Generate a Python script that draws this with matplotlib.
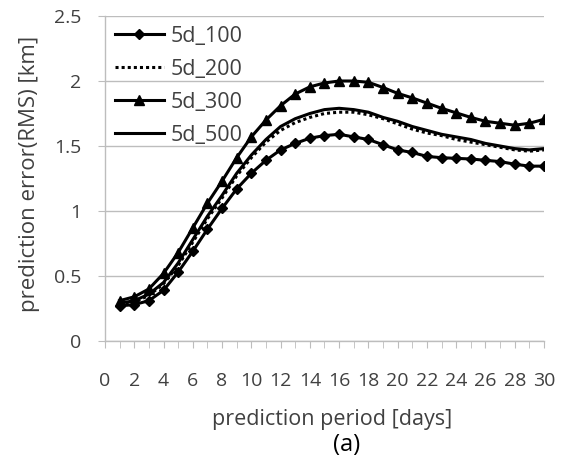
import matplotlib
matplotlib.use("Agg")
import matplotlib.pyplot as plt

days = list(range(1, 31))

rms_5d_100 = [0.27, 0.28, 0.31, 0.39, 0.53, 0.69, 0.86, 1.02, 1.17, 1.29,
              1.39, 1.47, 1.52, 1.56, 1.58, 1.59, 1.57, 1.55, 1.51, 1.47,
              1.45, 1.42, 1.41, 1.405, 1.40, 1.39, 1.38, 1.36, 1.345, 1.345]
rms_5d_200 = [0.28, 0.30, 0.35, 0.44, 0.58, 0.76, 0.94, 1.10, 1.27, 1.41,
              1.53, 1.62, 1.68, 1.72, 1.75, 1.76, 1.76, 1.74, 1.71, 1.67,
              1.63, 1.60, 1.58, 1.55, 1.53, 1.51, 1.49, 1.47, 1.46, 1.47]
rms_5d_300 = [0.31, 0.34, 0.40, 0.52, 0.68, 0.87, 1.06, 1.23, 1.41, 1.57,
              1.70, 1.81, 1.90, 1.955, 1.985, 2.0, 2.0, 1.99, 1.95, 1.905,
              1.87, 1.83, 1.79, 1.755, 1.72, 1.69, 1.675, 1.66, 1.675, 1.705]
rms_5d_500 = [0.29, 0.31, 0.36, 0.45, 0.60, 0.78, 0.96, 1.12, 1.29, 1.43,
              1.55, 1.65, 1.71, 1.75, 1.78, 1.79, 1.78, 1.76, 1.72, 1.69,
              1.65, 1.62, 1.59, 1.57, 1.55, 1.52, 1.50, 1.48, 1.47, 1.48]

x_ticks = list(range(0, 31, 2))
y_ticks = [0, 0.5, 1, 1.5, 2, 2.5]
y_tick_labels = ["0", "0.5", "1", "1.5", "2", "2.5"]

plt.rcParams['font.family'] = ['Open Sans', 'DejaVu Sans']
txt = '#404040'
grid_c = '#bdbdbd'

fig = plt.figure(figsize=(5.66, 4.68), dpi=100)
ax = fig.add_axes([0.1855, 0.2714, 0.7756, 0.6944])

ax.plot(days, rms_5d_100, color='black', linewidth=2.2, marker='D', markersize=5, label='5d_100')
ax.plot(days, rms_5d_200, color='black', linewidth=2.2, linestyle=(0, (1, 1)), label='5d_200')
ax.plot(days, rms_5d_300, color='black', linewidth=2.2, marker='^', markersize=7, label='5d_300')
ax.plot(days, rms_5d_500, color='black', linewidth=2.2, label='5d_500')

ax.set_xlim(0, 30)
ax.set_ylim(0, 2.5)
ax.set_xticks(x_ticks)
ax.set_xticks(range(0, 31), minor=True)
ax.set_yticks(y_ticks)
ax.set_yticklabels(y_tick_labels)

ax.grid(True, axis='y', color=grid_c, linewidth=1.0)
ax.set_axisbelow(True)
for s in ['top', 'right']:
    ax.spines[s].set_visible(False)
for s in ['left', 'bottom']:
    ax.spines[s].set_color(grid_c)
    ax.spines[s].set_linewidth(1.0)

ax.tick_params(axis='both', which='both', color=grid_c, labelcolor=txt, labelsize=14, direction='out')
ax.tick_params(axis='x', which='both', length=5, pad=17)
ax.tick_params(axis='y', length=5, pad=12)

ax.set_xlabel("prediction period [days]", fontsize=15.5, color=txt)
ax.xaxis.label.set_va('center')
ax.xaxis.set_label_coords(0.517, -0.242)
ax.set_ylabel("prediction error(RMS) [km]", fontsize=16, color=txt)
ax.yaxis.label.set_va('center')
ax.yaxis.set_label_coords(-0.173, 0.515)
fig.text(0.613, 0.05, "(a)", fontsize=17, color='black', ha='center', va='center')

leg = ax.legend(loc='upper left', frameon=False, fontsize=15.5, labelspacing=0.56,
                handlelength=2.3, handletextpad=0.3, borderaxespad=0.25, borderpad=0.2,
                bbox_to_anchor=(0.0, 1.0))
for t in leg.get_texts():
    t.set_color(txt)

fig.savefig("out.png", dpi=100)
